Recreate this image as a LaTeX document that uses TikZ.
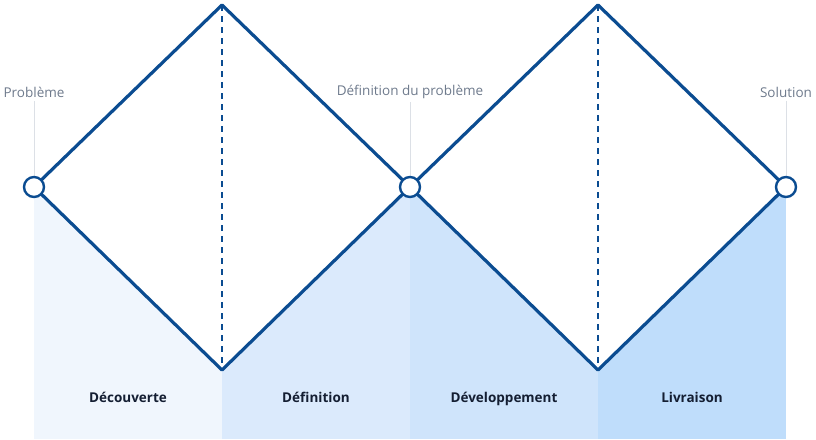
\documentclass[tikz,border=0pt]{standalone}
\usepackage{fontspec}
\setmainfont{Open Sans}
\begin{document}
\begin{tikzpicture}[x=1pt,y=-1pt,
  ring/.style={circle, draw={rgb,255:red,11;green,76;blue,145}, line width=2.4pt, fill=white, minimum size=20pt, inner sep=0pt},
  top/.style={font=\fontsize{13.5}{16}\selectfont, text={rgb,255:red,110;green,122;blue,140}},
  phase/.style={anchor=base, font=\bfseries\fontsize{13.5}{16}\selectfont, text={rgb,255:red,20;green,30;blue,50}},
  guide/.style={draw={rgb,255:red,220;green,224;blue,230}, line width=0.8pt}]
\useasboundingbox (0,0) rectangle (816,439);
\definecolor{dk}{RGB}{11,76,145}
\fill[fill={rgb,255:red,240;green,246;blue,253}] (34,187) rectangle (222,439);
\fill[fill={rgb,255:red,219;green,234;blue,252}] (222,187) rectangle (410,439);
\fill[fill={rgb,255:red,207;green,228;blue,251}] (410,187) rectangle (598,439);
\fill[fill={rgb,255:red,191;green,221;blue,251}] (598,187) rectangle (786,439);
\fill[white] (34,187) -- (222,5) -- (410,187) -- (222,370) -- cycle;
\fill[white] (410,187) -- (598,5) -- (786,187) -- (598,370) -- cycle;
\node[top] (t1) at (34,92) {Problème};
\node[top] (t2) at (410,92) {Définition du problème};
\node[top] (t3) at (786,92) {Solution};
\coordinate (a) at (34,187); \coordinate (b) at (410,187); \coordinate (c) at (786,187);
\coordinate (u1) at (222,5); \coordinate (d1) at (222,370);
\coordinate (u2) at (598,5); \coordinate (d2) at (598,370);
\draw[guide] (t1.south) -- (a);
\draw[guide] (t2.south) -- (b);
\draw[guide] (t3.south) -- (c);
\draw[dk, line width=1.8pt, dash pattern=on 6pt off 5pt] (u1) -- (d1);
\draw[dk, line width=1.8pt, dash pattern=on 6pt off 5pt] (u2) -- (d2);
\draw[dk, line width=3.2pt, line join=round] (a) -- (u1) -- (b) -- (d1) -- cycle;
\draw[dk, line width=3.2pt, line join=round] (b) -- (u2) -- (c) -- (d2) -- cycle;
\node[ring] (ca) at (a) {};
\node[ring] (cb) at (b) {};
\node[ring] (cc) at (c) {};
\node[phase] (p1) at (128,402) {Découverte};
\node[phase] (p2) at (316,402) {Définition};
\node[phase] (p3) at (504,402) {Développement};
\node[phase] (p4) at (692,402) {Livraison};
\end{tikzpicture}
\end{document}
